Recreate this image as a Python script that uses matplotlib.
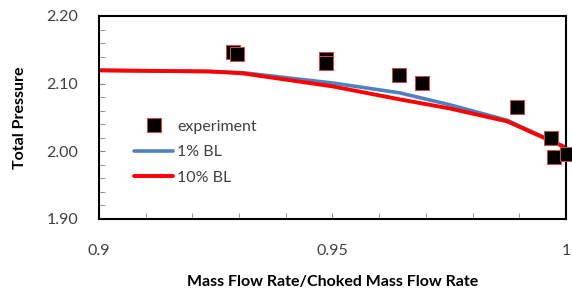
import matplotlib.pyplot as plt
from matplotlib.ticker import MultipleLocator, FixedLocator, FixedFormatter

plt.rcParams['font.family'] = ['Lato', 'DejaVu Sans']

# experiment points
exp_x = [0.9287, 0.9296, 0.9486, 0.9486, 0.9642, 0.9692, 0.9895, 0.9968, 0.9974, 1.0002]
exp_y = [2.1468, 2.1438, 2.1364, 2.1305, 2.1128, 2.1010, 2.0655, 2.0197, 1.9916, 1.9961]

# 1% BL
bl1_x = [0.9, 0.9238, 0.9308, 0.950, 0.9644, 0.975, 0.9874, 1.0]
bl1_y = [2.1197, 2.1180, 2.1162, 2.1010, 2.0864, 2.0690, 2.0460, 2.0055]

# 10% BL
bl10_x = [0.9, 0.9238, 0.9308, 0.950, 0.9644, 0.975, 0.9874, 1.0]
bl10_y = [2.1197, 2.1180, 2.1152, 2.0960, 2.0768, 2.0635, 2.0443, 2.0055]

fig = plt.figure(figsize=(5.72, 2.93), dpi=100)
ax = fig.add_axes([0.173, 0.2526, 0.8165, 0.6928])

ax.plot(bl1_x, bl1_y, color='#4F81BD', lw=2.6, label='1% BL', solid_capstyle='round')
ax.plot(bl10_x, bl10_y, color='#FF0000', lw=2.8, label='10% BL', solid_capstyle='round')
ax.plot(exp_x, exp_y, 's', color='black', markeredgecolor='#C0504D', markeredgewidth=0.8,
        markersize=9.5, label='experiment', clip_on=False, zorder=5)

ax.set_xlim(0.9, 1.0)
ax.set_ylim(1.90, 2.20)
ax.xaxis.set_major_locator(FixedLocator([0.9, 0.95, 1.0]))
ax.xaxis.set_major_formatter(FixedFormatter(['0.9', '0.95', '1']))
ax.xaxis.set_minor_locator(MultipleLocator(0.01))
ax.yaxis.set_major_locator(MultipleLocator(0.1))
ax.yaxis.set_major_formatter(plt.FormatStrFormatter('%.2f'))
ax.yaxis.set_minor_locator(MultipleLocator(0.02))

ax.tick_params(axis='both', which='both', direction='in', colors='#868686', labelcolor='#404040',
               labelsize=11.5)
ax.tick_params(axis='x', which='major', length=4, pad=18)
ax.tick_params(axis='x', which='minor', length=4)
ax.tick_params(axis='y', which='major', length=4, pad=15)
ax.tick_params(axis='y', which='minor', length=4)

for s in ax.spines.values():
    s.set_color('black')
    s.set_linewidth(1.5)

ax.set_xlabel('Mass Flow Rate/Choked Mass Flow Rate', fontsize=11.5, fontweight='bold', labelpad=12)
ax.set_ylabel('Total Pressure', fontsize=11.5, fontweight='bold', labelpad=14)

h, l = ax.get_legend_handles_labels()
ax.legend([h[2], h[0], h[1]], [l[2], l[0], l[1]], frameon=False, fontsize=11.5,
          loc='upper left', bbox_to_anchor=(0.045, 0.56), handlelength=2.4,
          labelspacing=0.7, handletextpad=0.3, labelcolor='#404040')

fig.savefig('out.png', dpi=100)
